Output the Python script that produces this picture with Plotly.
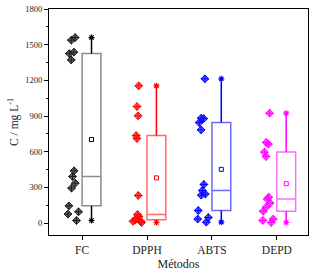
import numpy as np
import plotly.graph_objects as go

# ---- data ----
methods = ["FC", "DPPH", "ABTS", "DEPD"]
fc_vals = [1560, 1538, 1437, 1425, 1372, 440, 392, 336, 294, 145, 95, 76, 22]
dpph_vals = [1154, 980, 902, 736, 711, 232, 72, 55, 40, 28, 15, 15, 5]
abts_vals = [1213, 882, 878, 845, 784, 325, 274, 244, 235, 106, 47, 34, 8]
depd_vals = [924, 678, 664, 597, 560, 218, 202, 168, 134, 100, 34, 22, 5]
y_ticks = [0, 300, 600, 900, 1200, 1500, 1800]

series = [fc_vals, dpph_vals, abts_vals, depd_vals]

# ---- style ----
point_colors = ["#1a1a1a", "#ff0000", "#0000ff", "#ff00ff"]
point_fills = ["rgba(70,70,70,0.8)", "rgba(255,40,40,0.75)", "rgba(40,40,255,0.75)", "rgba(255,40,255,0.75)"]
box_colors = ["#8c8c8c", "#ff6a6a", "#6a6aff", "#ff6aff"]
whisk_colors = ["#000000", "#ff0000", "#0000ff", "#ff00ff"]
BOX_SHIFT = 0.145
BOX_WIDTH = 0.29
FONT = "Liberation Serif, Times New Roman, serif"

fig = go.Figure()
for i, (name, vals) in enumerate(zip(methods, series)):
    xpos = i + 1 + BOX_SHIFT
    fig.add_trace(go.Box(
        y=vals, x0=xpos, name=name, width=BOX_WIDTH,
        boxpoints="all", jitter=0.8, pointpos=-2.0,
        quartilemethod="inclusive",
        fillcolor="rgba(255,255,255,0)",
        line=dict(color=box_colors[i], width=1.5),
        whiskerwidth=0.0,
        marker=dict(symbol="diamond-cross", size=6, color=point_fills[i],
                    line=dict(color=point_colors[i], width=1)),
        showlegend=False, hoverinfo="y",
    ))
    arr = np.array(vals)
    # whiskers re-drawn in saturated colour (from data min / quartiles / max)
    q1, q3 = np.percentile(arr, [25, 75])
    fig.add_trace(go.Scatter(
        x=[xpos, xpos, None, xpos, xpos], y=[arr.min(), q1, None, q3, arr.max()],
        mode="lines", line=dict(color=whisk_colors[i], width=1.3),
        showlegend=False, hoverinfo="skip",
    ))
    fig.add_trace(go.Scatter(
        x=[xpos, xpos], y=[arr.min(), arr.max()], mode="markers",
        marker=dict(symbol="asterisk-open", size=5, color=whisk_colors[i],
                    line=dict(color=whisk_colors[i], width=1.2)),
        showlegend=False, hoverinfo="skip",
    ))
    fig.add_trace(go.Scatter(
        x=[xpos], y=[arr.mean()], mode="markers",
        marker=dict(symbol="square-open", size=4, color=whisk_colors[i],
                    line=dict(color=whisk_colors[i], width=1)),
        showlegend=False, hoverinfo="y",
    ))

fig.update_layout(
    width=316, height=274,
    margin=dict(l=49, r=8, t=9, b=39),
    paper_bgcolor="white", plot_bgcolor="white",
    font=dict(family=FONT, color="#222222"),
    xaxis=dict(
        range=[0.49, 4.48], tickvals=[1, 2, 3, 4], ticktext=methods,
        showline=True, mirror=True, linecolor="black", linewidth=1,
        ticks="outside", ticklen=4, tickcolor="black",
        showgrid=False, zeroline=False, automargin=False,
        tickfont=dict(size=11.5, family=FONT),
        title=dict(text="Métodos", font=dict(size=12, family=FONT), standoff=4),
    ),
    yaxis=dict(
        range=[-100, 1800], tickvals=y_ticks,
        showline=True, mirror=True, linecolor="black", linewidth=1,
        ticks="outside", ticklen=4, tickcolor="black",
        minor=dict(dtick=150, ticks="outside", ticklen=2, tickcolor="black", tick0=0),
        showgrid=False, zeroline=False, automargin=False,
        tickfont=dict(size=8.5, family=FONT),
        title=dict(text="C / mg L<sup>-1</sup>", font=dict(size=11.5, family=FONT), standoff=4),
    ),
)

fig.write_html(
    "out.html",
    config={"displayModeBar": False},
    post_script="document.body.style.margin='0';document.body.style.overflow='hidden';",
)
